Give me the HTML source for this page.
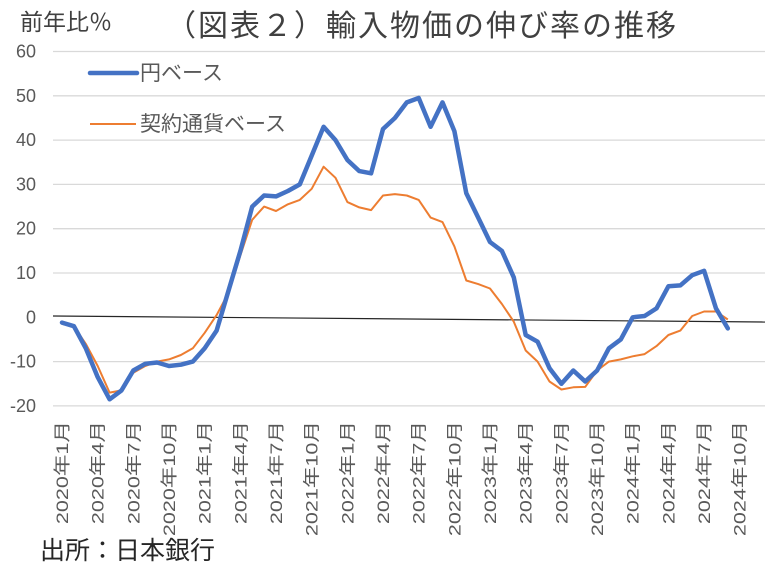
<!DOCTYPE html>
<html><head><meta charset="utf-8"><style>
body{margin:0;background:#fff;}
svg text{font-family:"Liberation Sans","Noto Sans CJK JP",sans-serif;}
</style></head><body>
<svg id="s" width="781" height="567" xmlns="http://www.w3.org/2000/svg">
<text x="20" y="30" font-size="23" fill="#404040">前年比％</text>
<text x="166" y="36" font-size="30" letter-spacing="2" fill="#404040">（図表２）輸入物価の伸び率の推移</text>
<g id="grid" stroke="#d9d9d9" stroke-width="1.3"></g>
<g id="yl" font-size="18" fill="#595959" text-anchor="end"></g>
<line x1="53" y1="316" x2="765" y2="322" stroke="#262626" stroke-width="1.2"/>
<g id="xl" font-size="17" fill="#595959"></g>
<polyline id="o" fill="none" stroke="#ed7d31" stroke-width="2" stroke-linejoin="round"/>
<polyline id="b" fill="none" stroke="#4472c4" stroke-width="4.5" stroke-linejoin="round" stroke-linecap="round"/>
<line x1="90" y1="73" x2="137" y2="73" stroke="#4472c4" stroke-width="4.5" stroke-linecap="round"/>
<text x="140" y="80" font-size="21" fill="#595959">円ベース</text>
<line x1="90" y1="124" x2="136" y2="124" stroke="#ed7d31" stroke-width="2"/>
<text x="140" y="131" font-size="21" fill="#595959">契約通貨ベース</text>
<text x="40" y="559" font-size="25" fill="#262626">出所：日本銀行</text>
</svg>
<script>
var ns="http://www.w3.org/2000/svg";
function Y(v){return 317.3-v*4.43;}
function X(i){return 62+i*11.89;}
var g=document.getElementById('grid'),yl=document.getElementById('yl'),xl=document.getElementById('xl');
for(var v=-20;v<=60;v+=10){
 if(v!==0){var l=document.createElementNS(ns,'line');l.setAttribute('x1',53);l.setAttribute('x2',765);l.setAttribute('y1',Y(v));l.setAttribute('y2',Y(v));g.appendChild(l);}
 var t=document.createElementNS(ns,'text');t.setAttribute('x',36);t.setAttribute('y',Y(v)+6);t.textContent=v;yl.appendChild(t);
}
var ms=[1,4,7,10];
for(var k=0;k<20;k++){
 var i=k*3,yr=2020+Math.floor(i/12),m=ms[k%4];
 var t=document.createElementNS(ns,'text');var x=X(i)+6;
 t.setAttribute('transform','translate('+x+',421) rotate(-90) scale(1.27,1)');t.setAttribute('text-anchor','end');
 t.textContent=yr+'年'+m+'月';xl.appendChild(t);
}
var b=[-1.2,-2,-7,-13.5,-18.5,-16.5,-12,-10.5,-10.2,-11,-10.7,-10,-7,-3,6,15,25,27.5,27.3,28.5,30,36.5,43,40,35.5,33,32.5,42.5,45,48.5,49.5,43,48.5,42,28,22.5,17,15,9,-4,-5.5,-11.5,-15,-12,-14.5,-12,-7,-5,0,0.3,2,7,7.2,9.5,10.5,2,-2.5];
var o=[-1.5,-2,-6,-11,-17,-16.5,-12.5,-11,-10,-9.5,-8.5,-7,-3.5,0.5,5.5,14,22,25,24,25.5,26.5,29,34,31.5,26,24.8,24.2,27.5,27.8,27.5,26.5,22.5,21.5,16,8.3,7.5,6.5,3,-1,-7.5,-10,-14.5,-16.3,-15.8,-15.7,-12,-10,-9.5,-8.8,-8.3,-6.5,-4,-3,0.3,1.3,1.3,-0.5];
function pts(a){return a.map(function(v,i){return X(i).toFixed(1)+','+Y(v).toFixed(1);}).join(' ');}
document.getElementById('b').setAttribute('points',pts(b));
document.getElementById('o').setAttribute('points',pts(o));
</script>
</body></html>
